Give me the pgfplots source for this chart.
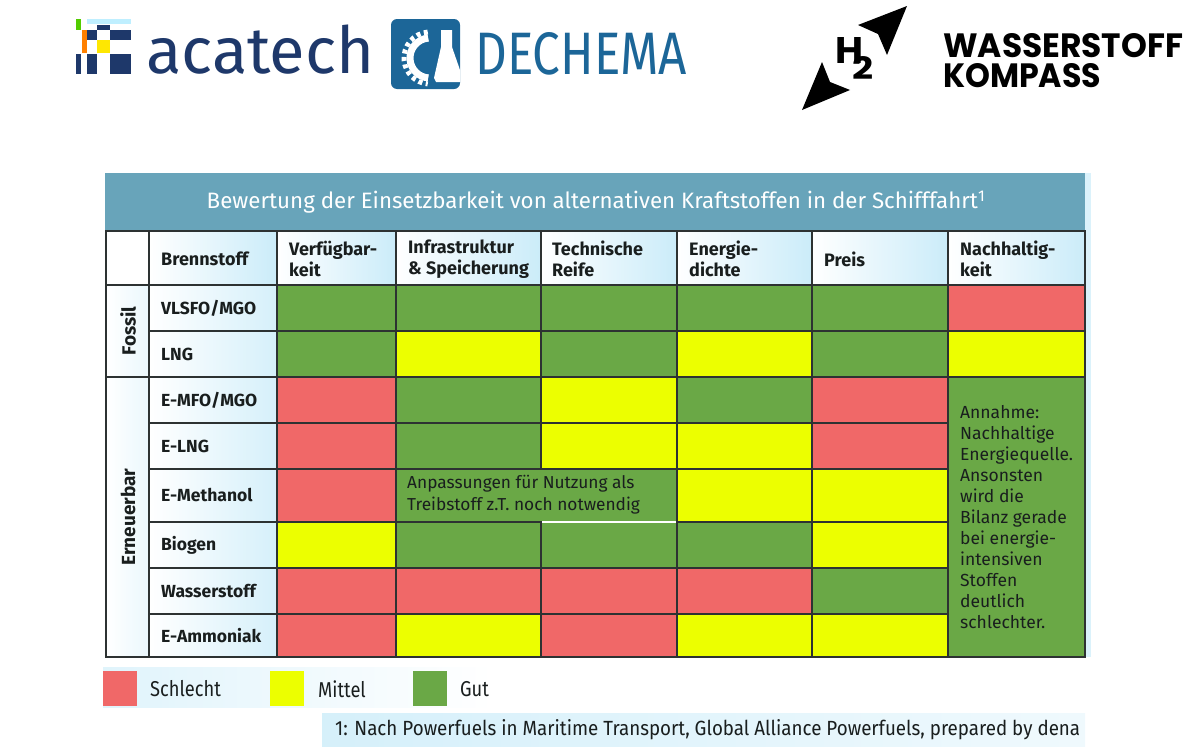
\documentclass[border=0pt]{standalone}
\usepackage{pgfplots}
\pgfplotsset{compat=1.18}
\usepackage{pgfplotstable}
\usepackage{fontspec}
\usepackage{graphicx}
\setmainfont{Fira Sans}
\newfontfamily\logofont{Poppins}

\definecolor{cR}{RGB}{240,104,104}
\definecolor{cY}{RGB}{236,255,0}
\definecolor{cG}{RGB}{106,168,70}
\definecolor{titlebar}{RGB}{104,164,186}
\definecolor{pale}{RGB}{203,236,249}
\definecolor{gridc}{RGB}{45,50,50}
\definecolor{navy}{RGB}{30,56,106}
\definecolor{dech}{RGB}{28,102,152}
\definecolor{txt}{RGB}{25,30,30}

\tikzset{
  cell0/.style={fill=cR, draw=gridc, line width=1.3pt},
  cell1/.style={fill=cY, draw=gridc, line width=1.3pt},
  cell2/.style={fill=cG, draw=gridc, line width=1.3pt},
  head/.style={left color=white, right color=pale, draw=gridc, line width=1.3pt},
}

% 0 = Schlecht, 1 = Mittel, 2 = Gut; w/h = merged columns/rows
\pgfplotstableread{
col row w h v
0 0 1 1 2
1 0 1 1 2
2 0 1 1 2
3 0 1 1 2
4 0 1 1 2
5 0 1 1 0
0 1 1 1 2
1 1 1 1 1
2 1 1 1 2
3 1 1 1 1
4 1 1 1 2
5 1 1 1 1
0 2 1 1 0
1 2 1 1 2
2 2 1 1 1
3 2 1 1 2
4 2 1 1 0
5 2 1 6 2
0 3 1 1 0
1 3 1 1 2
2 3 1 1 1
3 3 1 1 1
4 3 1 1 0
0 4 1 1 0
1 4 2 1 2
3 4 1 1 1
4 4 1 1 1
0 5 1 1 1
1 5 1 1 2
2 5 1 1 2
3 5 1 1 2
4 5 1 1 1
0 6 1 1 0
1 6 1 1 0
2 6 1 1 0
3 6 1 1 0
4 6 1 1 2
0 7 1 1 0
1 7 1 1 1
2 7 1 1 0
3 7 1 1 1
4 7 1 1 1
}\cells
\pgfplotstablegetrowsof{\cells}
\pgfmathtruncatemacro\nlast{\pgfplotsretval-1}

% cell borders (px)
\def\xb{{277,396,541,677,812,948,1085}}
\def\yb{{285,331,377,423,469,522,568,614,657}}

\begin{document}
\begin{tikzpicture}
\begin{axis}[
  width=1200pt, height=755pt, scale only axis,
  xmin=0, xmax=1200, ymin=0, ymax=755, y dir=reverse,
  axis line style={draw=none}, xtick=\empty, ytick=\empty,
  clip=false,
]
\addplot[draw=none] coordinates {(0,0) (1200,755)};

% title bar
\addplot[fill=titlebar, draw=none] coordinates {(105,173) (1085,173) (1085,231) (105,231)} -- cycle;
\addplot[fill=pale!70, draw=none] coordinates {(1085,173) (1091,173) (1091,657) (1085,657)} -- cycle;

% header row
\addplot[fill=white, draw=gridc, line width=1.3pt] coordinates {(106,231) (149,231) (149,285) (106,285)} -- cycle;
\pgfplotsinvokeforeach{{149/277},{277/396},{396/541},{541/677},{677/812},{812/948},{948/1085}}{%
  \pgfplotsforeachungrouped \a/\b in {#1}{%
    \edef\tmp{\noexpand\addplot[head] coordinates {(\a,231) (\b,231) (\b,285) (\a,285)} -- cycle;}\tmp}}

% group column and fuel names
\addplot[left color=white, right color=pale!40, draw=gridc, line width=1.3pt] coordinates {(106,285) (149,285) (149,377) (106,377)} -- cycle;
\addplot[left color=white, right color=pale!40, draw=gridc, line width=1.3pt] coordinates {(106,377) (149,377) (149,657) (106,657)} -- cycle;
\pgfplotsforeachungrouped \r in {0,...,7}{%
  \pgfmathsetmacro\ya{\yb[\r]}
  \pgfmathsetmacro\ye{\yb[\r+1]}
  \edef\tmp{\noexpand\addplot[left color=white, right color=pale!80, draw=gridc, line width=1.3pt] coordinates {(149,\ya) (277,\ya) (277,\ye) (149,\ye)} -- cycle;}\tmp}

% rating cells
\pgfplotsforeachungrouped \i in {0,...,\nlast}{%
  \pgfplotstablegetelem{\i}{col}\of\cells\let\cellc\pgfplotsretval
  \pgfplotstablegetelem{\i}{row}\of\cells\let\cellr\pgfplotsretval
  \pgfplotstablegetelem{\i}{w}\of\cells\let\cellw\pgfplotsretval
  \pgfplotstablegetelem{\i}{h}\of\cells\let\cellh\pgfplotsretval
  \pgfplotstablegetelem{\i}{v}\of\cells\let\cellv\pgfplotsretval
  \pgfmathsetmacro\xa{\xb[\cellc]}
  \pgfmathsetmacro\xe{\xb[\cellc+\cellw]}
  \pgfmathsetmacro\ya{\yb[\cellr]}
  \pgfmathsetmacro\ye{\yb[\cellr+\cellh]}
  \edef\tmp{\noexpand\addplot[cell\cellv] coordinates {(\xa,\ya) (\xe,\ya) (\xe,\ye) (\xa,\ye)} -- cycle;}\tmp}
\addplot[white, line width=1.6pt] coordinates {(542,522) (676,522)};

% texts in table
\node[white, font=\fontsize{22.3}{24}\selectfont] at (axis cs:596,202)
  {Bewertung der Einsetzbarkeit von alternativen Kraftstoffen in der Schifffahrt\textsuperscript{1}};
\begin{scope}[every node/.style={anchor=west, align=left, text=txt, inner sep=0pt,
    font=\fontsize{18}{21}\selectfont\bfseries}]
\node at (axis cs:161,259) {Brennstoff};
\node at (axis cs:289,259) {Verfügbar-\\keit};
\node at (axis cs:408,259) {Infrastruktur\\\& Speicherung};
\node at (axis cs:552,259) {Technische\\Reife};
\node at (axis cs:689,259) {Energie-\\dichte};
\node at (axis cs:824,259) {Preis};
\node at (axis cs:960,259) {Nachhaltig-\\keit};
\end{scope}
\begin{scope}[every node/.style={anchor=west, text=txt, inner sep=0pt,
    font=\fontsize{17.5}{20}\selectfont\bfseries}]
\node at (axis cs:161,308) {VLSFO/MGO};
\node at (axis cs:161,354) {LNG};
\node at (axis cs:161,400) {E-MFO/MGO};
\node at (axis cs:161,446) {E-LNG};
\node at (axis cs:161,495) {E-Methanol};
\node at (axis cs:161,545) {Biogen};
\node at (axis cs:161,591) {Wasserstoff};
\node at (axis cs:161,636) {E-Ammoniak};
\end{scope}
\node[rotate=90, text=txt, font=\fontsize{19}{20}\selectfont\bfseries] at (axis cs:128,331) {Fossil};
\node[rotate=90, text=txt, font=\fontsize{19}{20}\selectfont\bfseries] at (axis cs:128,517) {Erneuerbar};
\node[anchor=west, align=left, inner sep=0pt, text=txt, font=\fontsize{17.3}{22}\selectfont] at (axis cs:407,495)
  {Anpassungen für Nutzung als\\Treibstoff z.T. noch notwendig};
\node[anchor=north west, align=left, inner sep=0pt, text=txt, font=\fontsize{17.5}{21}\selectfont] at (axis cs:960,405)
  {Annahme:\\Nachhaltige\\Energiequelle.\\Ansonsten\\wird die\\Bilanz gerade\\bei energie-\\intensiven\\Stoffen\\deutlich\\schlechter.};

% legend
\addplot[left color=pale!60, right color=white, draw=none] coordinates {(103,667) (493,667) (493,707) (103,707)} -- cycle;
\addplot[fill=cR, draw=none] coordinates {(103,671) (137,671) (137,706) (103,706)} -- cycle;
\addplot[fill=cY, draw=none] coordinates {(270,671) (304,671) (304,706) (270,706)} -- cycle;
\addplot[fill=cG, draw=none] coordinates {(413,671) (447,671) (447,706) (413,706)} -- cycle;
\begin{scope}[every node/.style={anchor=west, inner sep=0pt, text=txt, font=\fontsize{21.5}{24}\selectfont}]
\node at (axis cs:150,689) {\scalebox{0.85}[1]{Schlecht}};
\node at (axis cs:318,689) {\scalebox{0.85}[1]{Mittel}};
\node at (axis cs:460,689) {\scalebox{0.85}[1]{Gut}};
\end{scope}

% footnote
\addplot[left color=pale!80, right color=pale!30, draw=none] coordinates {(322,713) (1085,713) (1085,746) (322,746)} -- cycle;
\node[anchor=west, inner sep=0pt, text=txt, font=\fontsize{20.5}{22}\selectfont] at (axis cs:335,730)
  {\resizebox{745pt}{\height}{1: Nach Powerfuels in Maritime Transport, Global Alliance Powerfuels, prepared by dena}};

% logos
\fill[green!60!yellow!80!black] (axis cs:76,19) rectangle (axis cs:81,30);
\fill[blue!25!cyan!25] (axis cs:87,19) rectangle (axis cs:131,24);
\fill[navy] (axis cs:97,25) rectangle (axis cs:110,30);
\fill[orange] (axis cs:81.5,30) rectangle (axis cs:86.5,53);
\fill[navy] (axis cs:87,30) rectangle (axis cs:97,40);
\fill[navy] (axis cs:110,30) rectangle (axis cs:131,40);
\fill[yellow!90!orange] (axis cs:97,40) rectangle (axis cs:110,53);
\fill[navy] (axis cs:76,54) rectangle (axis cs:81,74);
\fill[navy] (axis cs:87,54) rectangle (axis cs:97,74);
\fill[navy] (axis cs:110,54) rectangle (axis cs:131,74);
\node[anchor=base west, inner sep=0pt, text=navy, font=\fontsize{65}{65}\selectfont] at (axis cs:146,73) {acatech};

\fill[dech, rounded corners=6pt] (axis cs:391,19) rectangle (axis cs:460,89);
\draw[white, line width=7pt] (axis cs:430,58) ++(95:20pt) arc[start angle=95, end angle=265, radius=20pt];
\draw[white, line width=5pt, dash pattern=on 4pt off 3.5pt] (axis cs:430,58) ++(95:26pt) arc[start angle=95, end angle=265, radius=26pt];
\fill[white] (axis cs:441,30) -- (axis cs:452,30) -- (axis cs:452,47) -- (axis cs:460,70) -- (axis cs:460,82)
  -- (axis cs:436,82) -- (axis cs:434,78) -- (axis cs:441,47) -- cycle;
\node[anchor=south west, inner sep=0pt, text=dech] at (axis cs:475,75) {\resizebox{212pt}{42pt}{DECHEMA}};

\fill[black] (axis cs:858,25) -- (axis cs:907,6) -- (axis cs:887,55) -- (axis cs:878,34) -- cycle;
\fill[black] (axis cs:802,110) -- (axis cs:822,62) -- (axis cs:830,82) -- (axis cs:850,90) -- cycle;
\node[anchor=base west, inner sep=0pt] at (axis cs:835,63)
  {\logofont\bfseries\resizebox{28pt}{26pt}{H}\kern-11pt\raisebox{-17pt}{\resizebox{21pt}{23pt}{2}}};
\node[anchor=north west, inner sep=0pt] at (axis cs:943,33)
  {\vbox{\offinterlineskip\logofont\bfseries
    \hbox{\resizebox{240pt}{24pt}{WASSERSTOFF}}\kern6pt
    \hbox{\resizebox{158pt}{24pt}{KOMPASS}}}};
\end{axis}
\end{tikzpicture}
\end{document}
